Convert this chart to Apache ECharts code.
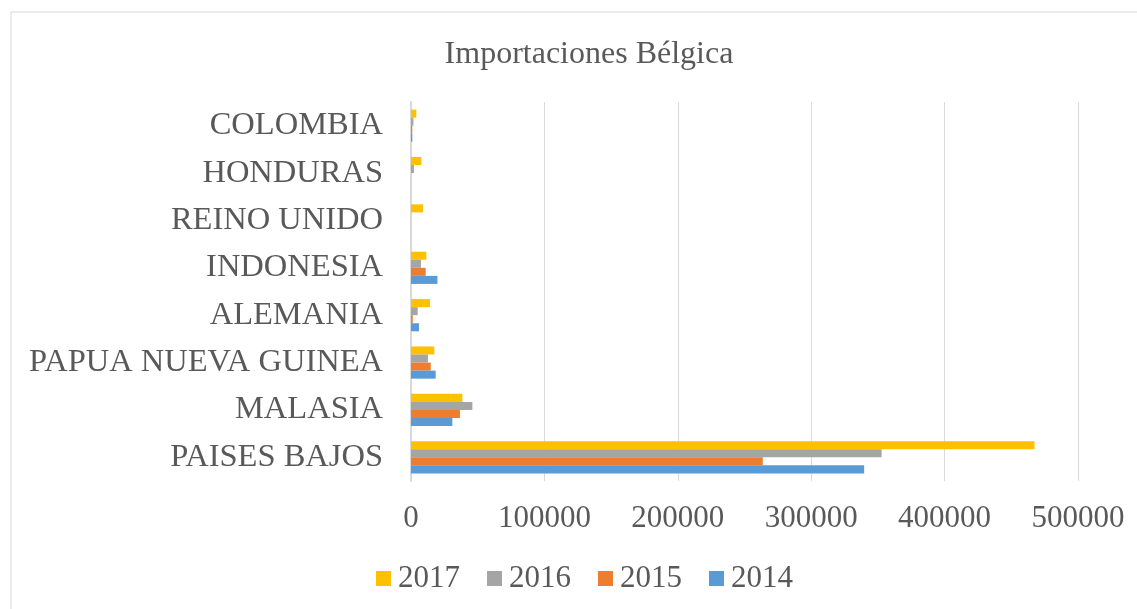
<!DOCTYPE html>
<html>
<head>
<meta charset="utf-8">
<script src="https://cdn.jsdelivr.net/npm/echarts@6/dist/echarts.min.js"></script>
<style>
    html, body { margin: 0; padding: 0; background: #fff; }
    #chart { width: 1137px; height: 609px; }
</style>
</head>
<body>
<div id="chart"></div>
<script>
// categories, bottom to top as in the picture
var paises = ["PAISES BAJOS", "MALASIA", "PAPUA NUEVA GUINEA", "ALEMANIA", "INDONESIA", "REINO UNIDO", "HONDURAS", "COLOMBIA"];
// series from top bar to bottom bar within each group
var anios = ["2017", "2016", "2015", "2014"];
var datos2017 = [467400, 38500, 17500, 14200, 11500, 9000, 7800, 4000];
var datos2016 = [352800, 46000, 12700, 5000, 7500, 0, 2200, 1800];
var datos2015 = [263700, 36700, 14800, 1300, 11000, 0, 0, 1000];
var datos2014 = [339700, 31000, 18500, 6000, 19800, 0, 0, 1000];
var colores = ["#FFC000", "#A5A5A5", "#ED7D31", "#5B9BD5"];

var fuente = "'Liberation Serif', 'Times New Roman', serif";
var gris = "#595959";

var chart = echarts.init(document.getElementById("chart"));
var listas = [datos2017, datos2016, datos2015, datos2014];

var option = {
    animation: false,
    title: {
        text: "Importaciones Bélgica",
        left: 584,
        top: 34,
        textAlign: "center",
        textStyle: { fontFamily: fuente, fontSize: 32, fontWeight: "normal", color: gris }
    },
    legend: {
        data: anios,
        left: 376,
        top: 563,
        padding: 0,
        itemWidth: 15,
        itemHeight: 15,
        itemGap: 27,
        icon: "rect",
        textStyle: { fontFamily: fuente, fontSize: 31, color: gris, padding: [0, 0, 0, 2] }
    },
    grid: {
        left: 411,
        right: 59,
        top: 102,
        bottom: 128
    },
    xAxis: {
        type: "value",
        min: 0,
        max: 500000,
        interval: 100000,
        axisLine: { show: false },
        axisTick: { show: false },
        splitLine: { lineStyle: { color: "#d9d9d9", width: 1 } },
        axisLabel: {
            fontFamily: fuente, fontSize: 31, color: gris, margin: 22,
            formatter: function (v) { return String(v); }
        }
    },
    yAxis: {
        type: "category",
        data: paises,
        axisLine: { lineStyle: { color: "#d9d9d9", width: 2 } },
        axisTick: { show: false },
        axisLabel: { fontFamily: fuente, fontSize: 32.5, color: gris, margin: 28 }
    },
    graphic: [
        { type: "line", shape: { x1: 11, y1: 12, x2: 1137, y2: 12 }, style: { stroke: "#d9d9d9", lineWidth: 1 } },
        { type: "line", shape: { x1: 11, y1: 12, x2: 11, y2: 609 }, style: { stroke: "#d9d9d9", lineWidth: 1 } }
    ],
    series: anios.map(function (a, i) {
        return {
            name: a,
            type: "bar",
            data: listas[i],
            barGap: "0%",
            barCategoryGap: "32%",
            itemStyle: { color: colores[i] }
        };
    })
};

option && chart.setOption(option);
</script>
</body>
</html>
